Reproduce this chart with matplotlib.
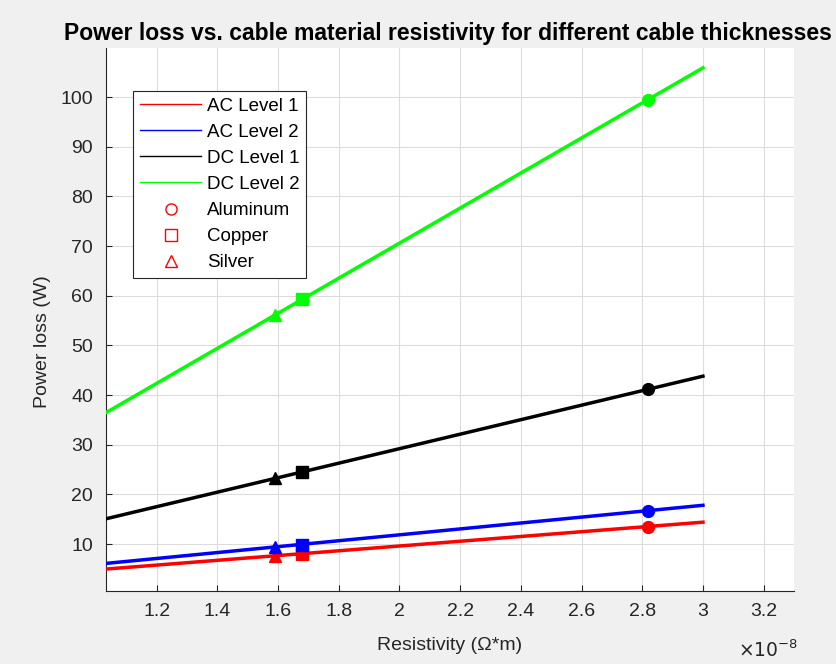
import matplotlib
matplotlib.use("Agg")
import matplotlib.pyplot as plt
from matplotlib.lines import Line2D
from matplotlib.ticker import FuncFormatter, MultipleLocator

plt.rcParams['font.family'] = ['Liberation Sans', 'DejaVu Sans']

# resistivity of the materials (Ohm*m)
materials = ['Aluminum', 'Copper', 'Silver']
mat_rho = [2.82e-8, 1.68e-8, 1.59e-8]
mat_markers = ['o', 's', '^']

# line ends
rho_line = [1.0e-8, 3.0e-8]

series = ['AC Level 1', 'AC Level 2', 'DC Level 1', 'DC Level 2']
colors = ['#ff0000', '#0000ff', '#000000', '#00ff00']
line_vals = [
    [4.8, 14.4],
    [5.9, 17.8],
    [14.6, 43.8],
    [35.3, 105.9],
]
# Aluminum, Copper, Silver
mat_vals = [
    [13.5, 8.0, 7.6],
    [16.7, 9.9, 9.4],
    [41.2, 24.5, 23.2],
    [99.5, 59.3, 56.1],
]
yticks = [10, 20, 30, 40, 50, 60, 70, 80, 90, 100]

fig = plt.figure(figsize=(8.37, 6.64), dpi=100, facecolor='#f0f0f0')
ax = fig.add_axes([0.1263, 0.1104, 0.8223, 0.8166])
ax.set_facecolor('white')

for name, c, lv, mv in zip(series, colors, line_vals, mat_vals):
    ax.plot(rho_line, lv, color=c, lw=2.5, zorder=3)
    for r, v, m in zip(mat_rho, mv, mat_markers):
        ax.plot(r, v, marker=m, color=c, ms=8.5, ls='none', zorder=4)

ax.set_xlim(1.032e-8, 3.3e-8)
ax.set_ylim(0.6, 109.8)
ax.xaxis.set_major_locator(MultipleLocator(0.2e-8))
ax.set_yticks(yticks)
ax.xaxis.set_major_formatter(FuncFormatter(lambda v, p: '%g' % round(v / 1e-8, 2)))
ax.grid(True, color='#dcdcdc', lw=0.8)
ax.set_axisbelow(True)

for s in ['top', 'right']:
    ax.spines[s].set_visible(False)
for s in ['left', 'bottom']:
    ax.spines[s].set_color('#262626')
    ax.spines[s].set_linewidth(0.8)
ax.tick_params(direction='in', length=4, colors='#262626', labelsize=14, pad=9)

ax.set_xlabel('Resistivity (\u03a9*m)', fontsize=14, color='#262626', labelpad=12)
ax.set_ylabel('Power loss (W)', fontsize=14, color='#262626')
ax.yaxis.set_label_coords(-0.08, 0.46)
ttl = ax.set_title('Power loss vs. cable material resistivity for different cable thicknesses',
                   fontsize=16.5, fontweight='bold', pad=6)
ttl.set_x(0.497)
fig.text(0.882, 0.01, r'$\times10^{-8}$', fontsize=13.5, color='#262626')

handles = [Line2D([], [], color=c, lw=1) for c in colors]
handles += [Line2D([], [], marker=m, color='red', mfc='none', ls='none', ms=8)
            for m in mat_markers]
leg = ax.legend(handles, series + materials, loc='upper left',
                bbox_to_anchor=(0.0397, 0.9216), fontsize=13.5, handlelength=3.3,
                fancybox=False, framealpha=1, edgecolor='#262626',
                borderpad=0.35, labelspacing=0.48, handletextpad=0.3,
                borderaxespad=0)
leg.get_frame().set_linewidth(0.8)

fig.savefig('out.png', dpi=100, facecolor=fig.get_facecolor())
